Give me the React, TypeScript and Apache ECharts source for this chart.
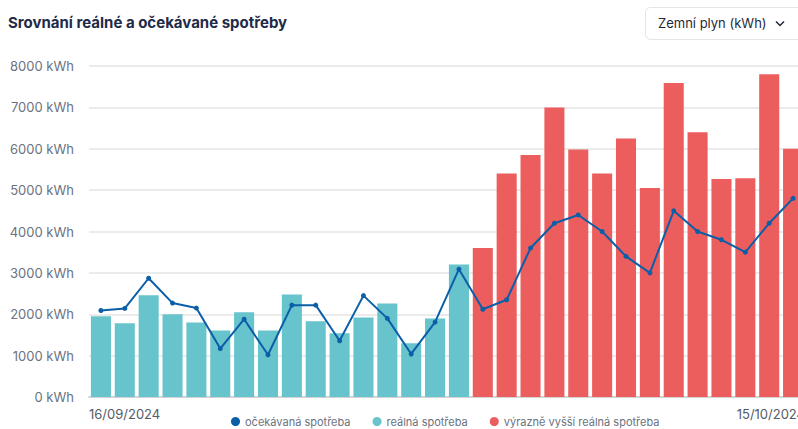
import React, { useEffect, useRef } from "react";
import * as echarts from "echarts";

const categories = [
  "16/09/2024", "17/09/2024", "18/09/2024", "19/09/2024", "20/09/2024",
  "21/09/2024", "22/09/2024", "23/09/2024", "24/09/2024", "25/09/2024",
  "26/09/2024", "27/09/2024", "28/09/2024", "29/09/2024", "30/09/2024",
  "01/10/2024", "02/10/2024", "03/10/2024", "04/10/2024", "05/10/2024",
  "06/10/2024", "07/10/2024", "08/10/2024", "09/10/2024", "10/10/2024",
  "11/10/2024", "12/10/2024", "13/10/2024", "14/10/2024", "15/10/2024",
];

const realConsumption = [
  1950, 1780, 2460, 2000, 1800, 1610, 2050, 1610, 2480, 1830,
  1540, 1920, 2260, 1300, 1900, 3200, null, null, null, null,
  null, null, null, null, null, null, null, null, null, null,
];

const highConsumption = [
  null, null, null, null, null, null, null, null, null, null,
  null, null, null, null, null, null, 3600, 5400, 5850, 7000,
  5980, 5400, 6250, 5050, 7590, 6400, 5270, 5290, 7800, 6000,
];

const expectedConsumption = [
  2090, 2140, 2870, 2270, 2150, 1170, 1880, 1020, 2220, 2220,
  1360, 2450, 1900, 1040, 1810, 3090, 2120, 2350, 3600, 4200,
  4400, 4000, 3400, 3000, 4500, 4000, 3800, 3500, 4200, 4800,
];

const yTicks = { min: 0, max: 8000, interval: 1000 };

const FONT = "Inter, 'Noto Sans', sans-serif";

export default function App() {
  const ref = useRef<HTMLDivElement>(null);

  useEffect(() => {
    if (!ref.current) return;
    const chart = echarts.init(ref.current, undefined, { renderer: "svg" });
    chart.setOption({
      animation: false,
      textStyle: { fontFamily: FONT },
      graphic: [
        {
          type: "text",
          left: 8,
          top: 15,
          style: {
            text: "Srovnání reálné a očekávané spotřeby",
            fill: "#1e2a48",
            font: `bold 15px ${FONT}`,
          },
        },
        {
          type: "rect",
          shape: { x: 645.5, y: 7.5, width: 180, height: 32, r: 5 },
          style: { fill: "#fff", stroke: "#e3e5ea", lineWidth: 1 },
        },
        {
          type: "text",
          x: 658,
          y: 16.5,
          style: {
            text: "Zemní plyn (kWh)",
            fill: "#1f2937",
            font: `13px ${FONT}`,
          },
        },
        {
          type: "polyline",
          shape: { points: [[776, 21.5], [780, 25.5], [784, 21.5]] },
          style: { stroke: "#1f2937", lineWidth: 1.5, fill: "none" },
        },
      ],
      legend: {
        left: 226,
        top: 411,
        itemWidth: 9,
        itemHeight: 9,
        itemGap: 22,
        icon: "circle",
        textStyle: { color: "#6b7280", fontSize: 11, fontFamily: FONT },
        data: ["očekávaná spotřeba", "reálná spotřeba", "výrazně vyšší reálná spotřeba"],
      },
      grid: { left: 89, right: 95, top: 66, bottom: 32 },
      xAxis: [
        {
          type: "category",
          data: categories,
          boundaryGap: true,
          axisLine: { show: true, lineStyle: { color: "#d4d4d4", width: 2 } },
          axisTick: { show: false },
          axisLabel: { show: false },
        },
        {
          type: "value",
          min: 0,
          max: 30,
          interval: 30,
          position: "bottom",
          axisLine: { show: false },
          axisTick: { show: false },
          splitLine: { show: false },
          axisLabel: {
            margin: 10,
            color: "#555b66",
            fontSize: 13,
            fontFamily: FONT,
            alignMinLabel: "left",
            alignMaxLabel: "right",
            formatter: (v: number) => (v === 0 ? categories[0] : categories[categories.length - 1]),
          },
        },
      ],
      yAxis: {
        type: "value",
        min: yTicks.min,
        max: yTicks.max,
        interval: yTicks.interval,
        axisLine: { show: false },
        axisTick: { show: false },
        splitLine: { lineStyle: { color: "#e4e4e4", width: 1.5 } },
        axisLabel: {
          margin: 15,
          color: "#6b7280",
          fontSize: 13,
          fontFamily: FONT,
          formatter: (v: number) => `${v} kWh`,
        },
      },
      series: [
        {
          name: "reálná spotřeba",
          type: "bar",
          stack: "real",
          data: realConsumption,
          barCategoryGap: "16%",
          itemStyle: { color: "#67c3cc" },
          xAxisIndex: 0,
        },
        {
          name: "výrazně vyšší reálná spotřeba",
          type: "bar",
          stack: "real",
          data: highConsumption,
          barCategoryGap: "16%",
          itemStyle: { color: "#ec5e5e" },
          xAxisIndex: 0,
        },
        {
          name: "očekávaná spotřeba",
          type: "line",
          data: expectedConsumption,
          symbol: "circle",
          symbolSize: 5,
          lineStyle: { color: "#0b5ea8", width: 2 },
          itemStyle: { color: "#0b5ea8" },
          xAxisIndex: 0,
          z: 5,
        },
      ],
    });
    return () => chart.dispose();
  }, []);

  return (
    <div style={{ position: "fixed", left: 0, top: 0, width: 798, height: 429, overflow: "hidden", background: "#fff" }}>
      <div ref={ref} style={{ width: 900, height: 429 }} />
    </div>
  );
}
